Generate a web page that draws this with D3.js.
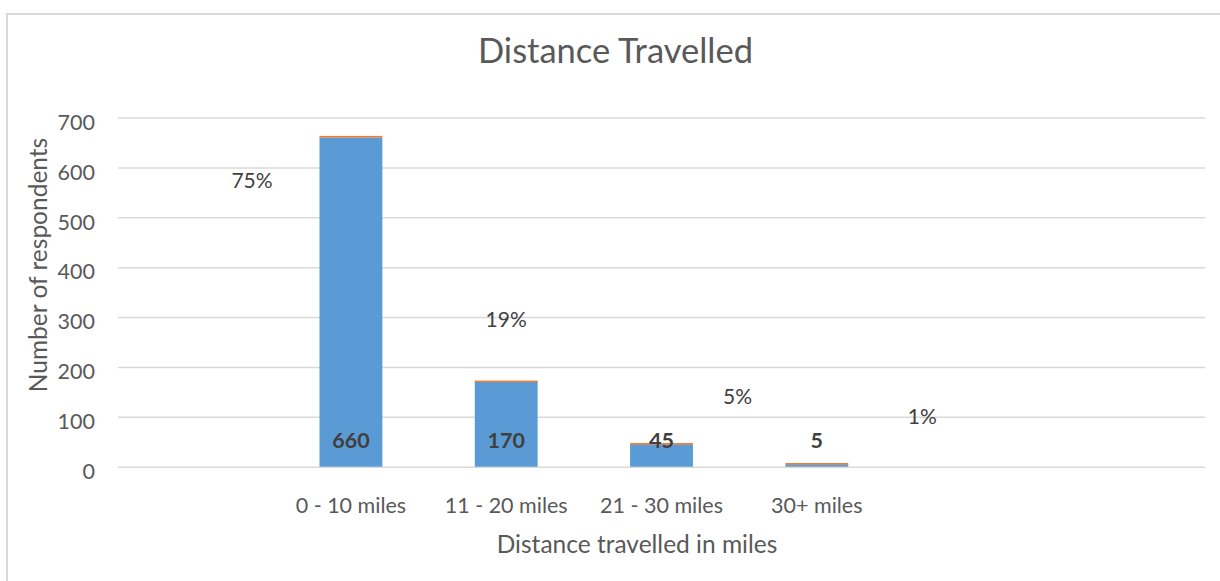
<!DOCTYPE html>
<html><head><meta charset="utf-8">
<script src="https://cdn.jsdelivr.net/npm/d3@7"></script>
<style>body{margin:0;background:#fff}svg{display:block}</style>
</head><body>
<svg id="c" width="1220" height="581"></svg>
<script>
const slots = ["_a", "0 - 10 miles", "11 - 20 miles", "21 - 30 miles", "30+ miles", "_b", "_c"];
const categories = ["0 - 10 miles", "11 - 20 miles", "21 - 30 miles", "30+ miles"];
const respondents = [660, 170, 45, 5];
const shares = [0.75, 0.19, 0.05, 0.01];
const shareLabels = ["75%", "19%", "5%", "1%"];
const shareLabelSlot = [0.363, 2.0, 3.49, 4.68];
const shareLabelValue = [574, 294, 140, 100];
const yTicks = [0, 100, 200, 300, 400, 500, 600, 700];

const FONT = "Lato, 'Open Sans', sans-serif";
const svg = d3.select("#c");
const L = 118, R = 1205, T = 117.5, B = 466.7;

// border
svg.append("path").attr("d", "M7,581 V14 H1220").attr("fill", "none")
  .attr("stroke", "#d9d9d9").attr("stroke-width", 2);

const x = d3.scaleBand().domain(slots).range([L, R]).padding(0);
const y = d3.scaleLinear().domain([0, 700]).range([B, T]);
const step = x.step();
const barW = step / 2.47;
const slotX = k => L + (k + 0.5) * step;

// gridlines + y labels
const yAxis = d3.axisLeft(y).tickValues(yTicks).tickSize(-(R - L)).tickPadding(23);
const gy = svg.append("g").attr("transform", `translate(${L},0)`).call(yAxis);
gy.select(".domain").remove();
gy.selectAll(".tick line").attr("stroke", "#d9d9d9").attr("stroke-width", 1.5);
gy.selectAll(".tick text").attr("fill", "#595959").attr("dy", "0.55em")
  .style("font-family", FONT).style("font-size", "21.5px");

// bars
const bars = svg.append("g");
categories.forEach((c, i) => {
  const cx = x(c) + x.bandwidth() / 2;
  bars.append("rect").attr("x", cx - barW / 2).attr("width", barW)
    .attr("y", y(respondents[i])).attr("height", y(0) - y(respondents[i]))
    .attr("fill", "#5B9BD5");
  const top = y(respondents[i] + shares[i]);
  bars.append("rect").attr("x", cx - barW / 2).attr("width", barW)
    .attr("y", top - 1.2).attr("height", 1.6)
    .attr("fill", "#ED7D31");
  bars.append("text").attr("x", cx).attr("y", y(0) - 26).attr("dy", "0.35em")
    .attr("text-anchor", "middle").attr("fill", "#404040")
    .style("font-family", FONT).style("font-size", "21.5px").style("font-weight", "bold")
    .text(respondents[i]);
  // category label
  svg.append("text").attr("x", cx).attr("y", 505).attr("dy", "0.35em")
    .attr("text-anchor", "middle").attr("fill", "#595959")
    .style("font-family", FONT).style("font-size", "21.5px").text(c);
});

// percentage labels
shareLabels.forEach((t, i) => {
  svg.append("text").attr("x", slotX(shareLabelSlot[i])).attr("y", y(shareLabelValue[i])).attr("dy", "0.35em")
    .attr("text-anchor", "middle").attr("fill", "#404040")
    .style("font-family", FONT).style("font-size", "21px").text(t);
});

// titles
svg.append("text").attr("x", 615.5).attr("y", 51).attr("dy", "0.35em")
  .attr("text-anchor", "middle").attr("fill", "#595959")
  .style("font-family", FONT).style("font-size", "34.5px").text("Distance Travelled");
svg.append("text").attr("x", 637).attr("y", 544).attr("dy", "0.35em")
  .attr("text-anchor", "middle").attr("fill", "#595959")
  .style("font-family", FONT).style("font-size", "24.5px").text("Distance travelled in miles");
svg.append("text").attr("transform", "translate(38,265) rotate(-90)").attr("dy", "0.35em")
  .attr("text-anchor", "middle").attr("fill", "#595959")
  .style("font-family", FONT).style("font-size", "24.5px").text("Number of respondents");
</script>
</body></html>
